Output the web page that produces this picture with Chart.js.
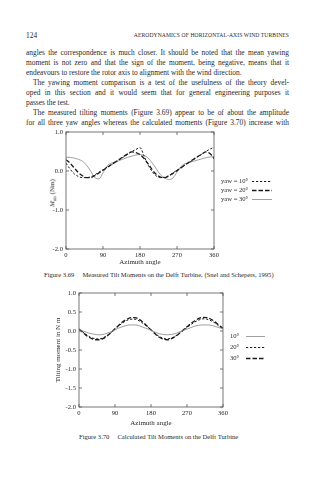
<!DOCTYPE html>
<html>
<head>
<meta charset="utf-8">
<script src="https://cdn.jsdelivr.net/npm/chart.js@4"></script>
<style>
  html, body { margin: 0; padding: 0; background: #fff; }
  body { width: 330px; height: 480px; position: relative; overflow: hidden;
         font-family: "Liberation Serif", "DejaVu Serif", serif; color: #2a2a2a; }
  .abs { position: absolute; }
  #pageNo { left: 26px; top: 31px; font-size: 7.4px; }
  #runHead { right: 41px; top: 32px; font-size: 5.6px; letter-spacing: 0.1px; }
  #body { left: 26px; top: 48px; width: 263px; font-size: 7.4px; line-height: 10px; }
  #body div { white-space: nowrap; text-align: justify; text-align-last: justify; }
  #body div.end { text-align-last: left; }
  #body div.ind { padding-left: 7px; }
  .cap { font-size: 6.6px; white-space: nowrap; }
  .cap b { font-weight: normal; margin-right: 8px; }
  #ytitle1 { left: 53px; top: 193px; font-size: 7px; transform: translate(-50%, -50%) rotate(-90deg); white-space: nowrap; }
  #ytitle1 sub { font-size: 4.5px; }
</style>
</head>
<body>
<div class="abs" id="pageNo">124</div>
<div class="abs" id="runHead">AERODYNAMICS OF HORIZONTAL-AXIS WIND TURBINES</div>
<div class="abs" id="body">
  <div>angles the correspondence is much closer. It should be noted that the mean yawing</div>
  <div>moment is not zero and that the sign of the moment, being negative, means that it</div>
  <div class="end">endeavours to restore the rotor axis to alignment with the wind direction.</div>
  <div class="ind">The yawing moment comparison is a test of the usefulness of the theory devel-</div>
  <div>oped in this section and it would seem that for general engineering purposes it</div>
  <div class="end">passes the test.</div>
  <div class="ind">The measured tilting moments (Figure 3.69) appear to be of about the amplitude</div>
  <div>for all three yaw angles whereas the calculated moments (Figure 3.70) increase with</div>
</div>

<div class="abs" style="left:30px; top:125px; width:260px; height:141px;"><canvas id="measured"></canvas></div>
<div class="abs" id="ytitle1"><i>M</i><sub>tilt</sub> (Nm)</div>
<div class="abs cap" style="left:44px; top:271px;"><b>Figure 3.69</b>Measured Tilt Moments on the Delft Turbine, (Snel and Schepers, 1995)</div>

<div class="abs" style="left:40px; top:285px; width:250px; height:142px;"><canvas id="calculated"></canvas></div>
<div class="abs cap" style="left:79px; top:433px;"><b>Figure 3.70</b>Calculated Tilt Moments on the Delft Turbine</div>

<script>
// azimuth positions (degrees)
const azimuth = [0, 10, 20, 30, 40, 50, 60, 70, 80, 90, 100, 110, 120, 130, 140, 150, 160, 170, 180,
                 190, 200, 210, 220, 230, 240, 250, 260, 270, 280, 290, 300, 310, 320, 330, 340, 350, 360];
const azimuthTicks = [0, 90, 180, 270, 360];

// Fig 3.69 - measured tilt moment (Nm)
const measYaw10 = [0.20, 0.05, -0.07, -0.14, -0.17, -0.17, -0.15, -0.10, -0.03, 0.03, 0.10, 0.16, 0.22, 0.29, 0.36, 0.43, 0.50, 0.55, 0.60,
                   0.38, 0.15, -0.02, -0.13, -0.17, -0.16, -0.12, -0.05, 0.02, 0.09, 0.16, 0.22, 0.29, 0.36, 0.43, 0.50, 0.56, 0.61];
const measYaw20 = [0.29, 0.20, 0.08, -0.04, -0.12, -0.17, -0.17, -0.12, -0.05, 0.02, 0.09, 0.16, 0.23, 0.30, 0.37, 0.44, 0.49, 0.47, 0.42,
                   0.32, 0.18, 0.03, -0.09, -0.16, -0.17, -0.13, -0.06, 0.01, 0.08, 0.16, 0.23, 0.30, 0.37, 0.43, 0.49, 0.45, 0.32];
const measYaw30 = [0.35, 0.35, 0.33, 0.30, 0.25, 0.15, 0.00, -0.17, -0.20, -0.05, 0.13, 0.20, 0.23, 0.27, 0.31, 0.35, 0.38, 0.41, 0.42,
                   0.40, 0.33, 0.20, 0.05, -0.10, -0.18, -0.22, -0.18, -0.03, 0.12, 0.19, 0.22, 0.25, 0.28, 0.31, 0.34, 0.36, 0.37];
const measTicks = [1.0, 0.0, -1.0, -2.0];

// Fig 3.70 - calculated tilt moment (N m)
const calc10 = [0.05, 0.00, -0.04, -0.07, -0.09, -0.10, -0.09, -0.06, -0.02, 0.03, 0.08, 0.12, 0.15, 0.16, 0.16, 0.14, 0.10, 0.06, 0.02,
                -0.03, -0.07, -0.09, -0.10, -0.09, -0.07, -0.03, 0.01, 0.05, 0.09, 0.13, 0.15, 0.16, 0.16, 0.15, 0.12, 0.09, 0.06];
const calc20 = [0.05, -0.03, -0.11, -0.17, -0.20, -0.21, -0.18, -0.12, -0.04, 0.05, 0.14, 0.22, 0.28, 0.31, 0.31, 0.27, 0.20, 0.12, 0.03,
                -0.06, -0.14, -0.19, -0.21, -0.19, -0.14, -0.07, 0.01, 0.09, 0.17, 0.24, 0.29, 0.32, 0.31, 0.27, 0.21, 0.13, 0.06];
const calc30 = [0.05, -0.04, -0.13, -0.19, -0.23, -0.23, -0.20, -0.13, -0.04, 0.06, 0.16, 0.25, 0.31, 0.35, 0.35, 0.31, 0.23, 0.13, 0.03,
                -0.07, -0.16, -0.21, -0.23, -0.21, -0.15, -0.07, 0.02, 0.11, 0.20, 0.27, 0.33, 0.36, 0.35, 0.31, 0.24, 0.15, 0.07];
const calcTicks = [1.0, 0.5, 0.0, -0.5, -1.0, -1.5, -2.0];

const ink = '#2a2a2a';
const tickFont = { family: 'Liberation Serif', size: 6.6 };

// box round the plot with short inward ticks on all four sides
const frameTicks = {
  id: 'frameTicks',
  afterDatasetsDraw(chart) {
    const { ctx, chartArea: a, scales: { x, y } } = chart;
    const len = 3;
    ctx.save();
    ctx.strokeStyle = '#555';
    ctx.lineWidth = 0.8;
    ctx.strokeRect(a.left, a.top, a.right - a.left, a.bottom - a.top);
    ctx.beginPath();
    x.ticks.forEach(t => {
      const px = x.getPixelForValue(t.value);
      ctx.moveTo(px, a.bottom); ctx.lineTo(px, a.bottom - len);
      ctx.moveTo(px, a.top); ctx.lineTo(px, a.top + len);
    });
    y.ticks.forEach(t => {
      const py = y.getPixelForValue(t.value);
      ctx.moveTo(a.left, py); ctx.lineTo(a.left + len, py);
      ctx.moveTo(a.right, py); ctx.lineTo(a.right - len, py);
    });
    ctx.stroke();
    ctx.restore();
  }
};

// key drawn to the right of the plot: label then line sample
const sideKey = {
  id: 'sideKey',
  afterDraw(chart, args, o) {
    const ctx = chart.ctx;
    ctx.save();
    ctx.font = '6.6px "Liberation Serif"';
    ctx.fillStyle = ink;
    ctx.textBaseline = 'middle';
    chart.data.datasets.forEach((ds, i) => {
      const yy = o.top + i * o.step;
      ctx.fillText(ds.label, o.textX, yy);
      ctx.beginPath();
      ctx.setLineDash(ds.borderDash || []);
      ctx.strokeStyle = ds.borderColor;
      ctx.lineWidth = ds.borderWidth;
      ctx.moveTo(o.lineX, yy + 0.5);
      ctx.lineTo(o.lineX + o.lineW, yy + 0.5);
      ctx.stroke();
    });
    ctx.restore();
  }
};

function series(label, values, color, width, dash) {
  return {
    label: label,
    data: values.map((v, i) => ({ x: azimuth[i], y: v })),
    borderColor: color,
    borderWidth: width,
    borderDash: dash,
    pointRadius: 0,
    fill: false,
    cubicInterpolationMode: 'monotone',
  };
}

function makeOptions(cfg) {
  return {
    responsive: true,
    maintainAspectRatio: false,
    animation: false,
    layout: { padding: cfg.padding },
    plugins: { legend: { display: false }, tooltip: { enabled: false }, sideKey: cfg.key },
    scales: {
      x: {
        type: 'linear', min: 0, max: 360,
        afterBuildTicks: s => { s.ticks = azimuthTicks.map(v => ({ value: v })); },
        afterFit: s => { s.height = cfg.xHeight; },
        grid: { display: false, drawTicks: false },
        border: { display: false },
        ticks: { color: ink, font: tickFont, padding: 2, maxRotation: 0, autoSkip: false },
        title: { display: true, text: 'Azimuth angle', color: ink, font: { family: 'Liberation Serif', size: 7 }, padding: 0 },
      },
      y: {
        type: 'linear', min: -2, max: 1,
        afterBuildTicks: s => { s.ticks = cfg.yTicks.map(v => ({ value: v })); },
        afterFit: s => { s.width = cfg.yWidth; },
        grid: { display: false, drawTicks: false },
        border: { display: false },
        ticks: { color: ink, font: tickFont, padding: 3, callback: v => v.toFixed(1) },
        title: cfg.yTitle,
      },
    },
  };
}

new Chart(document.getElementById('measured'), {
  type: 'line',
  data: {
    datasets: [
      series('yaw = 10°', measYaw10, '#1a1a1a', 1, [2.2, 1.8]),
      series('yaw = 20°', measYaw20, '#1a1a1a', 1.3, [4.5, 2]),
      series('yaw = 30°', measYaw30, '#888', 0.8, []),
    ],
  },
  options: makeOptions({
    padding: { left: 0, top: 7, right: 76, bottom: 0 },
    xHeight: 17, yWidth: 36, yTicks: measTicks,
    yTitle: { display: false },
    key: { textX: 191, lineX: 222, lineW: 20, top: 56, step: 9 },
  }),
  plugins: [frameTicks, sideKey],
});

new Chart(document.getElementById('calculated'), {
  type: 'line',
  data: {
    datasets: [
      series('10°', calc10, '#888', 0.8, []),
      series('20°', calc20, '#1a1a1a', 1, [2.2, 1.8]),
      series('30°', calc30, '#1a1a1a', 1.3, [4.5, 2]),
    ],
  },
  options: makeOptions({
    padding: { left: 14, top: 8, right: 67, bottom: 0 },
    xHeight: 20, yWidth: 25, yTicks: calcTicks,
    yTitle: { display: true, text: 'Tilting moment in N m', color: ink, font: { family: 'Liberation Serif', size: 7 }, padding: 0 },
    key: { textX: 190, lineX: 206, lineW: 19, top: 51, step: 11 },
  }),
  plugins: [frameTicks, sideKey],
});
</script>
</body>
</html>
